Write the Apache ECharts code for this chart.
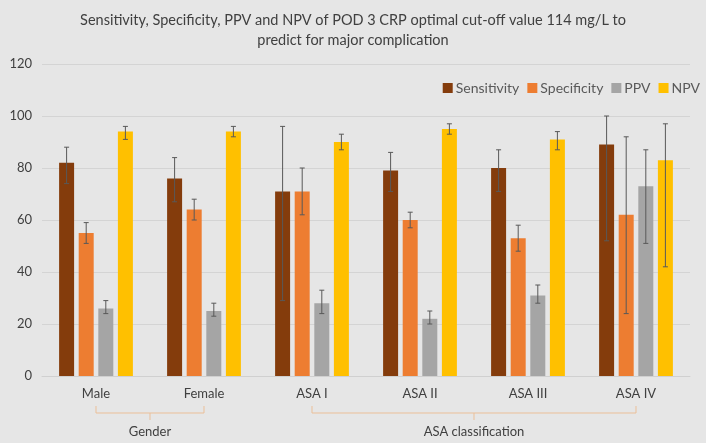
<!DOCTYPE html>
<html>
<head>
<meta charset="utf-8">
<script src="https://cdn.jsdelivr.net/npm/echarts@6/dist/echarts.min.js"></script>
<style>
  html, body { margin: 0; padding: 0; background: #e6e6e6; }
  #chart { width: 706px; height: 443px; }
</style>
</head>
<body>
<div id="chart"></div>
<script>
var categories = ['Male', 'Female', 'ASA I', 'ASA II', 'ASA III', 'ASA IV'];
var seriesNames = ['Sensitivity', 'Specificity', 'PPV', 'NPV'];

var sensitivity = [82, 76, 71, 79, 80, 89];
var sensitivityLo = [74, 67, 29, 71, 71, 52];
var sensitivityHi = [88, 84, 96, 86, 87, 100];

var specificity = [55, 64, 71, 60, 53, 62];
var specificityLo = [51, 60, 62, 57, 48, 24];
var specificityHi = [59, 68, 80, 63, 58, 92];

var ppv = [26, 25, 28, 22, 31, 73];
var ppvLo = [24, 23, 24, 20, 28, 51];
var ppvHi = [29, 28, 33, 25, 35, 87];

var npv = [94, 94, 90, 95, 91, 83];
var npvLo = [91, 92, 87, 93, 87, 42];
var npvHi = [96, 96, 93, 97, 94, 97];

// groups below the axis: [label, first category, last category]
var groups = [['Gender', 'Male', 'Female'], ['ASA classification', 'ASA I', 'ASA IV']];

var colors = ['#843c0c', '#ed7d31', '#a5a5a5', '#ffc000'];
var values = [sensitivity, specificity, ppv, npv];
var lows = [sensitivityLo, specificityLo, ppvLo, npvLo];
var highs = [sensitivityHi, specificityHi, ppvHi, npvHi];

var BAR_W = 15, BAR_GAP = 4.6;
var FONT = 'Lato, "Open Sans", sans-serif';

var chart = echarts.init(document.getElementById('chart'));

function errorSeries(idx) {
    var data = [];
    for (var i = 0; i < categories.length; i++) {
        data.push([i, lows[idx][i], highs[idx][i]]);
    }
    var offset = -(4 * BAR_W + 3 * BAR_GAP) / 2 + BAR_W / 2 + idx * (BAR_W + BAR_GAP);
    return {
        type: 'custom',
        name: seriesNames[idx] + ' CI',
        z: 10,
        silent: true,
        data: data,
        renderItem: function (params, api) {
            var lo = api.coord([api.value(0), api.value(1)]);
            var hi = api.coord([api.value(0), api.value(2)]);
            var x = lo[0] + offset;
            var cap = 2.5;
            var style = { stroke: '#595959', lineWidth: 1 };
            return {
                type: 'group',
                children: [
                    { type: 'line', shape: { x1: x, y1: lo[1], x2: x, y2: hi[1] }, style: style },
                    { type: 'line', shape: { x1: x - cap, y1: lo[1], x2: x + cap, y2: lo[1] }, style: style },
                    { type: 'line', shape: { x1: x - cap, y1: hi[1], x2: x + cap, y2: hi[1] }, style: style }
                ]
            };
        }
    };
}

var series = [];
for (var s = 0; s < 4; s++) {
    series.push({
        name: seriesNames[s],
        type: 'bar',
        barWidth: BAR_W,
        barGap: (BAR_GAP / BAR_W * 100) + '%',
        itemStyle: { color: colors[s] },
        data: values[s]
    });
}
for (var e = 0; e < 4; e++) {
    series.push(errorSeries(e));
}

chart.setOption({
    backgroundColor: '#e6e6e6',
    animation: false,
    color: colors,
    title: {
        text: 'Sensitivity, Specificity, PPV and NPV of POD 3 CRP optimal cut-off value 114 mg/L to\npredict for major complication',
        left: 'center',
        top: 5,
        textStyle: { fontFamily: FONT, fontSize: 14.5, fontWeight: 'normal', color: '#404040', lineHeight: 20 }
    },
    legend: {
        data: seriesNames,
        right: 1,
        top: 76,
        itemWidth: 10,
        itemHeight: 10,
        itemGap: 8,
        icon: 'rect',
        textStyle: { fontFamily: FONT, fontSize: 14, color: '#595959', padding: [0, 0, 0, -2] }
    },
    grid: { left: 42, right: 16, top: 64, bottom: 67 },
    xAxis: {
        type: 'category',
        data: categories,
        axisTick: { show: false },
        axisLine: { lineStyle: { color: '#d0d0d0' } },
        axisLabel: { fontFamily: FONT, fontSize: 13, color: '#404040', margin: 11 }
    },
    yAxis: {
        type: 'value',
        min: 0,
        max: 120,
        interval: 20,
        axisLine: { show: false },
        axisTick: { show: false },
        splitLine: { lineStyle: { color: '#d4d4d4' } },
        axisLabel: { fontFamily: FONT, fontSize: 13, color: '#404040', margin: 10 }
    },
    series: series
});

// brackets for category groups
var graphics = [];
groups.forEach(function (g) {
    var x1 = chart.convertToPixel({ xAxisIndex: 0 }, g[1]);
    var x2 = chart.convertToPixel({ xAxisIndex: 0 }, g[2]);
    var mid = (x1 + x2) / 2;
    var c = '#ebbf98';
    graphics.push({
        type: 'polyline',
        shape: { points: [[x1, 406], [x1, 413], [x2, 413], [x2, 406]] },
        style: { stroke: c, lineWidth: 1, fill: null }
    });
    graphics.push({
        type: 'line',
        shape: { x1: mid, y1: 413, x2: mid, y2: 420 },
        style: { stroke: c, lineWidth: 1 }
    });
    graphics.push({
        type: 'text',
        x: mid,
        y: 432,
        style: {
            text: g[0], fontFamily: FONT, fontSize: 13, fill: '#404040',
            textAlign: 'center', textVerticalAlign: 'middle'
        }
    });
});
chart.setOption({ graphic: graphics });

window.onresize = function () {
    chart.resize();
};
</script>
</body>
</html>
